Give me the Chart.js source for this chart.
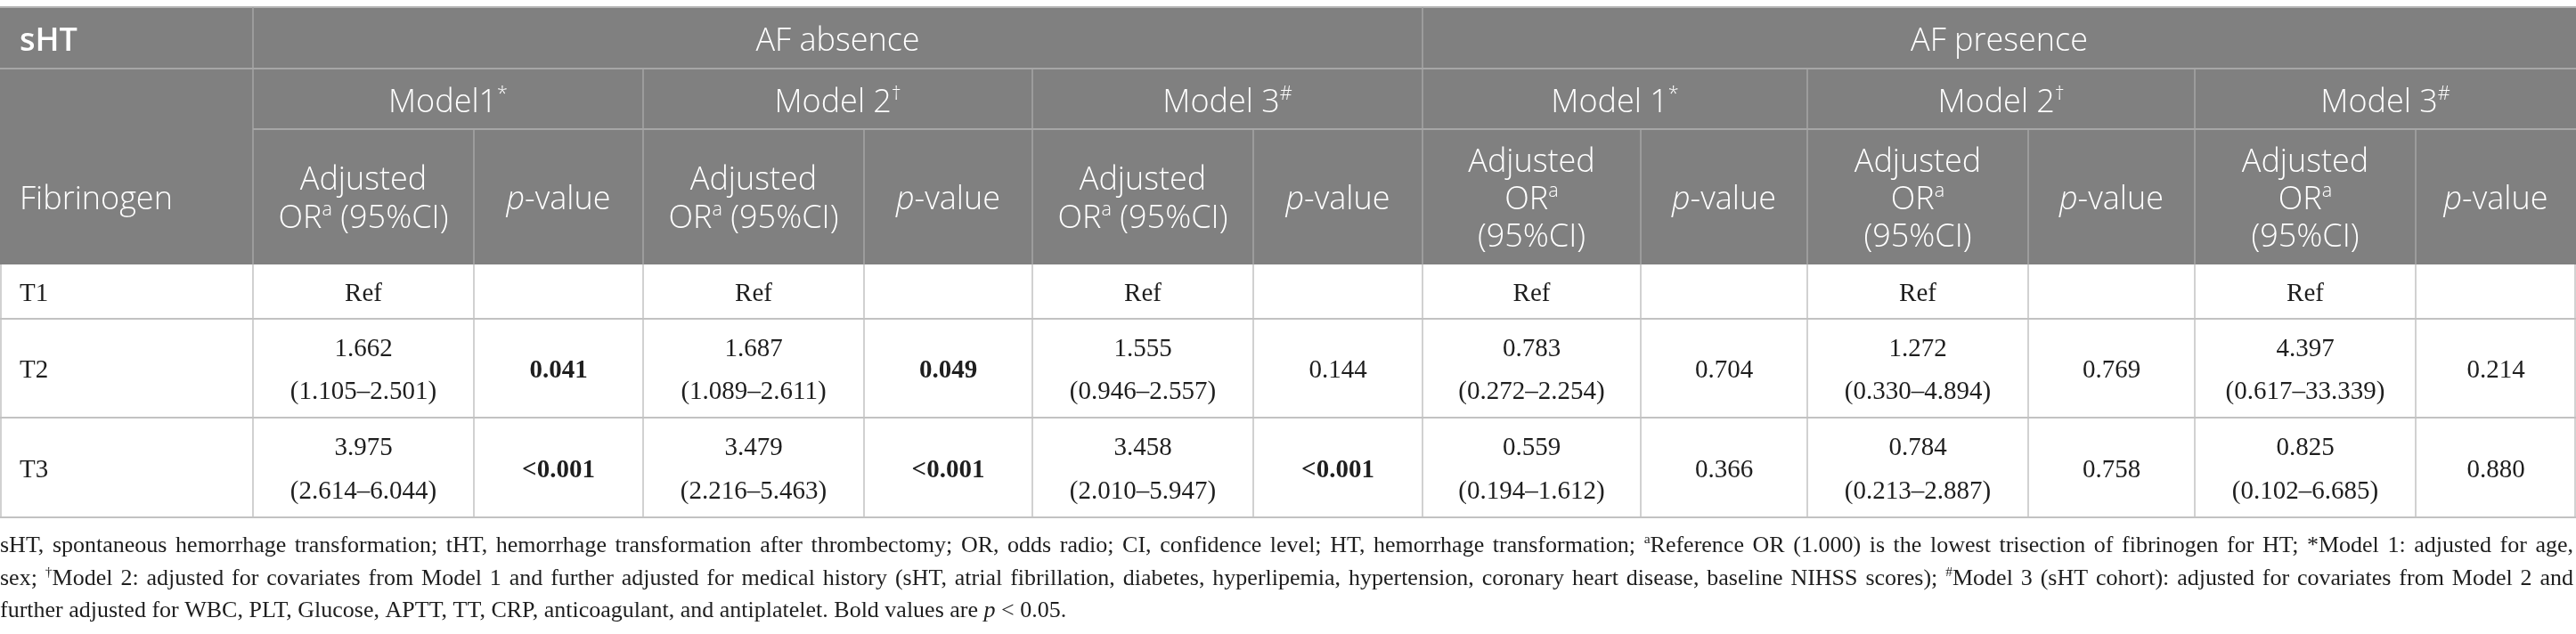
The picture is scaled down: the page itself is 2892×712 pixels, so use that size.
<!DOCTYPE html>
<html>
<head>
<meta charset="utf-8">
<script src="https://cdn.jsdelivr.net/npm/chart.js@4.4.1/dist/chart.umd.min.js"></script>
<style>
  html, body { margin: 0; padding: 0; background: #fff; }
  #wrap { width: 2892px; height: 712px; }
</style>
</head>
<body>
<div id="wrap"><canvas id="tbl" width="2892" height="712"></canvas></div>
<script>
// table content
const groups = ["AF absence", "AF presence"];
const models = ["Model1", "Model 2", "Model 3", "Model 1", "Model 2", "Model 3"];
const modelMarks = ["*", "†", "#", "*", "†", "#"];
const tertiles = ["T1", "T2", "T3"];

const orT2 = [1.662, 1.687, 1.555, 0.783, 1.272, 4.397];
const lowT2 = [1.105, 1.089, 0.946, 0.272, 0.330, 0.617];
const highT2 = [2.501, 2.611, 2.557, 2.254, 4.894, 33.339];
const pT2 = ["0.041", "0.049", "0.144", "0.704", "0.769", "0.214"];

const orT3 = [3.975, 3.479, 3.458, 0.559, 0.784, 0.825];
const lowT3 = [2.614, 2.216, 2.010, 0.194, 0.213, 0.102];
const highT3 = [6.044, 5.463, 5.947, 1.612, 2.887, 6.685];
const pT3 = ["<0.001", "<0.001", "<0.001", "0.366", "0.758", "0.880"];

const footnote = [
  "sHT, spontaneous hemorrhage transformation; tHT, hemorrhage transformation after thrombectomy; OR, odds radio; CI, confidence level; HT, hemorrhage transformation; ^{a}Reference OR (1.000) is the lowest trisection of fibrinogen for HT; *Model 1: adjusted for age,",
  "sex; ^{†}Model 2: adjusted for covariates from Model 1 and further adjusted for medical history (sHT, atrial fibrillation, diabetes, hyperlipemia, hypertension, coronary heart disease, baseline NIHSS scores); ^{#}Model 3 (sHT cohort): adjusted for covariates from Model 2 and",
  "further adjusted for WBC, PLT, Glucose, APTT, TT, CRP, anticoagulant, and antiplatelet. Bold values are _{p} < 0.05."
];

// layout (in the x/y scale units)
const colEdges = [0, 284, 532, 722, 970, 1159, 1407, 1597, 1842, 2029, 2277, 2464, 2712, 2892];
const rowEdges = [8, 77, 145, 297, 358, 469, 581];

const HEAD = { family: "'Open Sans', sans-serif", size: 36, weight: 300, color: "#ffffff" };
const BODY = { family: "'Liberation Serif', serif", size: 29, weight: 400, color: "#1e1e1e" };
const NOTE = { family: "'Liberation Serif', serif", size: 26, weight: 400, color: "#1e1e1e" };

function fontOf(st, run) {
  const size = run.sup ? st.size * 0.6 : st.size;
  const weight = run.b ? (run.b === true ? "bold" : run.b) : st.weight;
  return (run.it ? "italic " : "normal ") + weight + " " + size + "px " + st.family;
}

function runsWidth(ctx, runs, st) {
  let w = 0;
  runs.forEach(r => { ctx.font = fontOf(st, r); w += ctx.measureText(r.t).width; });
  return w;
}

function drawRuns(ctx, runs, x, y, align, st) {
  const w = runsWidth(ctx, runs, st);
  let cx = align === "center" ? x - w / 2 : x;
  ctx.fillStyle = st.color;
  ctx.textBaseline = "alphabetic";
  ctx.textAlign = "left";
  runs.forEach(r => {
    ctx.font = fontOf(st, r);
    ctx.fillText(r.t, cx, r.sup ? y - st.size * 0.38 : y);
    cx += ctx.measureText(r.t).width;
  });
}

function parseMarkup(str) {
  const runs = [];
  const re = /\^\{([^}]*)\}|_\{([^}]*)\}|([^^_]+)/g;
  let m;
  while ((m = re.exec(str))) {
    if (m[1] !== undefined) runs.push({ t: m[1], sup: true });
    else if (m[2] !== undefined) runs.push({ t: m[2], it: true });
    else runs.push({ t: m[3] });
  }
  return runs;
}

function toWords(runs) {
  const words = [[]];
  runs.forEach(r => {
    const parts = r.t.split(" ");
    parts.forEach((p, i) => {
      if (i > 0) words.push([]);
      if (p.length) words[words.length - 1].push(Object.assign({}, r, { t: p }));
    });
  });
  return words.filter(w => w.length);
}

const fmt = v => v.toFixed(3);
const isBold = p => p.startsWith("<") || parseFloat(p) < 0.05;

const tablePlugin = {
  id: "tablePlugin",
  afterDraw(chart) {
    const ctx = chart.ctx;
    const X = v => chart.scales.x.getPixelForValue(v);
    const Y = v => chart.scales.y.getPixelForValue(v);
    const last = colEdges[colEdges.length - 1];

    ctx.save();
    // header background
    ctx.fillStyle = "#808080";
    ctx.fillRect(X(0), Y(rowEdges[0]), X(last) - X(0), Y(rowEdges[3]) - Y(rowEdges[0]));

    const hLine = (x0, x1, y, col, w) => {
      ctx.strokeStyle = col; ctx.lineWidth = w;
      ctx.beginPath(); ctx.moveTo(X(x0), Y(y)); ctx.lineTo(X(x1), Y(y)); ctx.stroke();
    };
    const vLine = (x, y0, y1, col, w) => {
      ctx.strokeStyle = col; ctx.lineWidth = w;
      ctx.beginPath(); ctx.moveTo(X(x), Y(y0)); ctx.lineTo(X(x), Y(y1)); ctx.stroke();
    };

    // header grid
    const hc = "#a6a6a6";
    hLine(0, last, rowEdges[0], "#b4b4b4", 2);
    hLine(0, last, rowEdges[1], hc, 2);
    hLine(colEdges[1], last, rowEdges[2], hc, 2);
    [colEdges[1], colEdges[7]].forEach(x => vLine(x, rowEdges[0], rowEdges[1], hc, 1.5));
    for (let i = 1; i < colEdges.length - 1; i += 2) vLine(colEdges[i], rowEdges[1], rowEdges[2], hc, 1.5);
    for (let i = 1; i < colEdges.length - 1; i++) vLine(colEdges[i], rowEdges[2], rowEdges[3], hc, 1.5);

    // body grid
    const bc = "#c2c2c2";
    for (let r = 4; r < rowEdges.length; r++) hLine(0, last, rowEdges[r], bc, 2);
    colEdges.forEach((x, i) => {
      const xx = i === 0 ? x + 1 : (i === colEdges.length - 1 ? x - 1 : x);
      vLine(xx, rowEdges[3], rowEdges[6], bc, 1.5);
    });

    // header text
    const mid = (a, b) => (X(a) + X(b)) / 2;
    drawRuns(ctx, [{ t: "sHT", b: 600 }], X(0) + 22, Y(57), "left", HEAD);
    drawRuns(ctx, [{ t: groups[0] }], mid(colEdges[1], colEdges[7]), Y(57), "center", HEAD);
    drawRuns(ctx, [{ t: groups[1] }], mid(colEdges[7], last), Y(57), "center", HEAD);
    drawRuns(ctx, [{ t: "Fibrinogen" }], X(0) + 22, Y(235), "left", HEAD);

    models.forEach((m, i) => {
      const a = colEdges[1 + 2 * i], b = colEdges[2 + 2 * i], c = colEdges[3 + 2 * i];
      drawRuns(ctx, [{ t: m }, { t: modelMarks[i], sup: true }], mid(a, c), Y(126), "center", HEAD);
      if (i < 3) {
        drawRuns(ctx, [{ t: "Adjusted" }], mid(a, b), Y(213), "center", HEAD);
        drawRuns(ctx, [{ t: "OR" }, { t: "a", sup: true }, { t: " (95%CI)" }], mid(a, b), Y(256), "center", HEAD);
      } else {
        drawRuns(ctx, [{ t: "Adjusted" }], mid(a, b), Y(193), "center", HEAD);
        drawRuns(ctx, [{ t: "OR" }, { t: "a", sup: true }], mid(a, b), Y(235), "center", HEAD);
        drawRuns(ctx, [{ t: "(95%CI)" }], mid(a, b), Y(277), "center", HEAD);
      }
      drawRuns(ctx, [{ t: "p", it: true }, { t: "-value" }], mid(b, c), Y(235), "center", HEAD);
    });

    // body text
    const labelBase = [338, 424, 536];
    tertiles.forEach((t, r) => drawRuns(ctx, [{ t }], X(0) + 22, Y(labelBase[r]), "left", BODY));
    const rows = [
      { or: orT2, low: lowT2, high: highT2, p: pT2, l1: 400, l2: 448, pb: 424 },
      { or: orT3, low: lowT3, high: highT3, p: pT3, l1: 511, l2: 560, pb: 536 }
    ];
    models.forEach((m, i) => {
      const a = colEdges[1 + 2 * i], b = colEdges[2 + 2 * i], c = colEdges[3 + 2 * i];
      drawRuns(ctx, [{ t: "Ref" }], mid(a, b), Y(338), "center", BODY);
      rows.forEach(row => {
        drawRuns(ctx, [{ t: fmt(row.or[i]) }], mid(a, b), Y(row.l1), "center", BODY);
        drawRuns(ctx, [{ t: "(" + fmt(row.low[i]) + "\u2013" + fmt(row.high[i]) + ")" }], mid(a, b), Y(row.l2), "center", BODY);
        drawRuns(ctx, [{ t: row.p[i], b: isBold(row.p[i]) }], mid(b, c), Y(row.pb), "center", BODY);
      });
    });

    // footnote (first two lines justified)
    const noteBase = [620, 657, 693];
    footnote.forEach((line, li) => {
      const words = toWords(parseMarkup(line));
      const widths = words.map(w => runsWidth(ctx, w, NOTE));
      const total = widths.reduce((s, v) => s + v, 0);
      ctx.font = fontOf(NOTE, {});
      const space = ctx.measureText(" ").width;
      let gap = space;
      const target = X(last) - X(0) - 3;
      if (li < 2) gap = (target - total) / (words.length - 1);
      let x = X(0);
      words.forEach((w, k) => {
        drawRuns(ctx, w, x, Y(noteBase[li]), "left", NOTE);
        x += widths[k] + gap;
      });
    });
    ctx.restore();
  }
};

new Chart(document.getElementById("tbl"), {
  type: "scatter",
  data: { datasets: [] },
  options: {
    responsive: false,
    animation: false,
    events: [],
    layout: { padding: 0 },
    plugins: { legend: { display: false }, tooltip: { enabled: false } },
    scales: {
      x: { type: "linear", display: false, min: 0, max: 2892 },
      y: { type: "linear", display: false, min: 0, max: 712, reverse: true }
    }
  },
  plugins: [tablePlugin]
});
</script>
</body>
</html>
